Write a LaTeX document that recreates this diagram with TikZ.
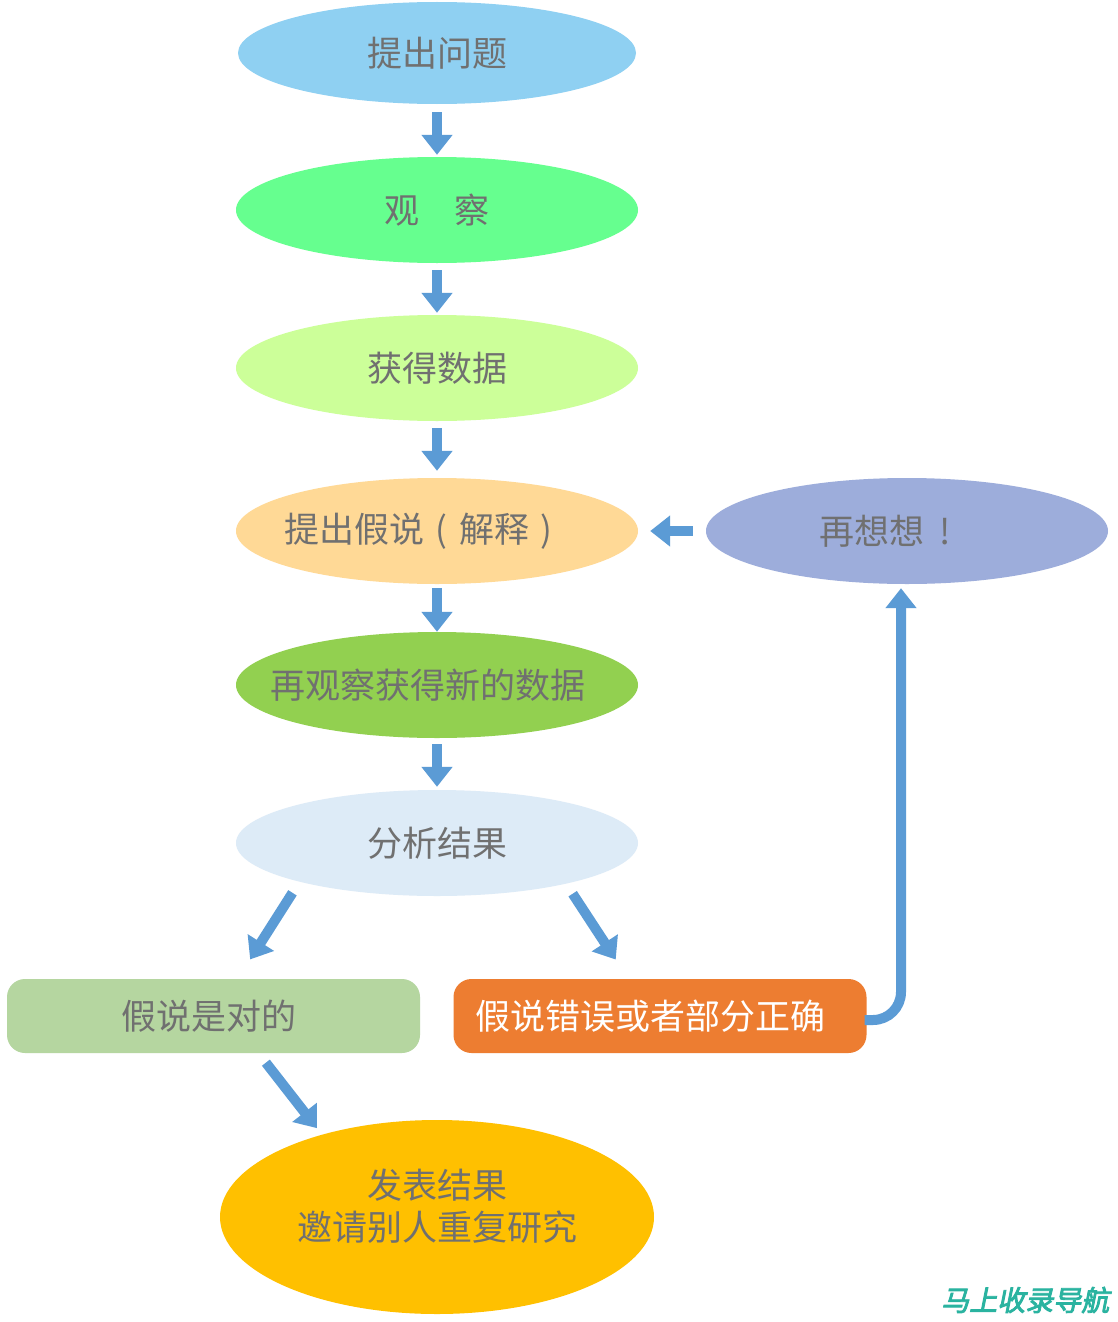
\documentclass[tikz,border=0pt]{standalone}
\usepackage{fontspec}
\usetikzlibrary{shapes.geometric,arrows.meta,calc}
\newfontfamily\cjk{Noto Sans CJK SC}
\newfontfamily\wmfont[FakeBold=3,FakeSlant=0.2]{Noto Sans CJK SC}
\definecolor{cA}{HTML}{8FD0F2}
\definecolor{cB}{HTML}{66FF8F}
\definecolor{cC}{HTML}{CCFF99}
\definecolor{cD}{HTML}{FFD996}
\definecolor{cE}{HTML}{92D050}
\definecolor{cF}{HTML}{DDEBF7}
\definecolor{cG}{HTML}{9DADDB}
\definecolor{cYes}{HTML}{B5D6A0}
\definecolor{cNo}{HTML}{ED7D31}
\definecolor{cFin}{HTML}{FFC000}
\definecolor{arrowblue}{HTML}{5B9BD5}
\definecolor{txtgray}{HTML}{707070}
\definecolor{wmteal}{HTML}{2AB3A0}
\tikzset{
  ell/.style={ellipse, draw=none, inner sep=0pt, minimum width=402pt, minimum height=106pt},
  lbl/.style={inner sep=0pt, font=\cjk\fontsize{35}{42}\selectfont, text=txtgray, align=center},
  rbox/.style={rectangle, rounded corners=18pt, draw=none, inner sep=0pt, minimum width=413pt, minimum height=74pt},
  barrow/.style={draw=arrowblue, line width=10pt, -{Triangle[width=30pt,length=20pt]}},
}
\begin{document}
\begin{tikzpicture}[x=1pt,y=-1pt]
\useasboundingbox (0,0) rectangle (1117,1322);
\fill[white] (0,0) rectangle (1117,1322);

\node[ell, fill=cA, minimum width=398pt, minimum height=102pt] (e1) at (437,53) {};
\node[lbl] (t1) at (e1) {提出问题};
\node[ell, fill=cB] (e2) at (437,210) {};
\node[lbl] (t2) at (e2) {观\hspace{1em}察};
\node[ell, fill=cC] (e3) at (437,368) {};
\node[lbl] (t3) at (e3) {获得数据};
\node[ell, fill=cD] (e4) at (437,531) {};
\node[lbl] (t4) at ($(e4)+(-13,0)$) {提出假说\makebox[1em]{(}解释\makebox[1em]{)}};
\node[ell, fill=cE] (e5) at (437,685) {};
\node[lbl] (t5) at ($(e5)+(-9,0)$) {再观察获得新的数据};
\node[ell, fill=cF] (e6) at (437,843) {};
\node[lbl] (t6) at (e6) {分析结果};
\node[ell, fill=cG] (e7) at (907,531) {};
\node[lbl] (t7) at ($(e7)+(-14,0)$) {再想想\makebox[1.2em]{!}};
\node[rbox, fill=cYes] (yes) at (213.5,1016) {};
\node[lbl] (ty) at ($(yes)+(-5,0)$) {假说是对的};
\node[rbox, fill=cNo] (no) at (660,1016) {};
\node[lbl, text=white] (tn) at ($(no)+(-10,0)$) {假说错误或者部分正确};
\node[ell, fill=cFin, minimum width=434pt, minimum height=194pt] (fin) at (437,1217) {};
\node[lbl] (tf) at ($(fin)+(0,-11)$) {发表结果\\邀请别人重复研究};

\draw[barrow, shorten <=8pt, shorten >=2pt] (e1.south) -- (e2.north);
\draw[barrow, shorten <=7pt, shorten >=2pt] (e2.south) -- (e3.north);
\draw[barrow, shorten <=7pt, shorten >=7pt] (e3.south) -- (e4.north);
\draw[barrow, shorten <=4pt, shorten >=0pt] (e4.south) -- (e5.north);
\draw[barrow, shorten <=6pt, shorten >=3pt] (e5.south) -- (e6.north);
\draw[barrow, shorten <=13pt, shorten >=12pt] (e7.west) -- (e4.east);

\draw[barrow, shorten <=14pt, shorten >=23pt] ($(e6.center)+(-137,38)$) -- ($(yes.north west)+(231,0)$);
\draw[barrow, shorten <=14pt, shorten >=23pt] ($(e6.center)+(128,39)$) -- ($(no.north west)+(175,0)$);
\draw[barrow, shorten <=12pt, shorten >=10pt] ($(yes.south)+(45,0)$) -- ($(fin.center)+(-114,-81)$);
\draw[barrow, rounded corners=28pt, shorten >=4pt] ($(no.east)+(-2,4)$) -| ($(e7.south)+(-6,0)$);

\node[font=\wmfont\fontsize{28}{30}\selectfont, text=wmteal, anchor=west, inner sep=0pt] (wm) at (941,1300) {马上收录导航};
\end{tikzpicture}
\end{document}
